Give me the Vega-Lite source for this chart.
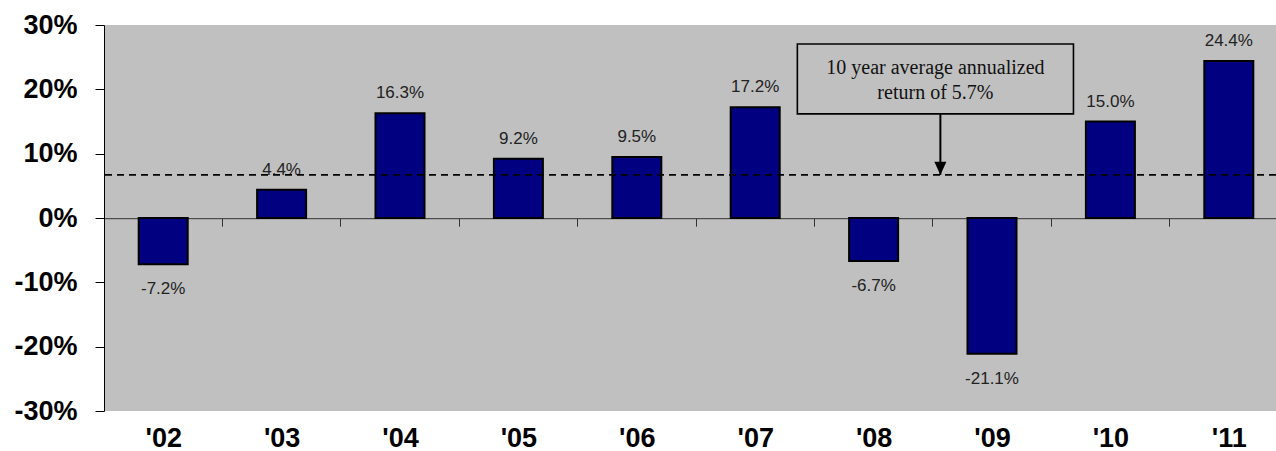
{
  "$schema": "https://vega.github.io/schema/vega-lite/v6.json",
  "width": 1172,
  "height": 386,
  "autosize": "none",
  "padding": {"left": 104, "top": 25, "right": 0, "bottom": 40},
  "background": "white",
  "config": {
    "view": {"fill": "#c0c0c0", "stroke": null},
    "locale": {"number": {"decimal": ".", "thousands": ",", "grouping": [3], "currency": ["$", ""], "minus": "-"}},
    "font": "Liberation Sans"
  },
  "datasets": {
    "returns": [
      {"year": "'02", "v": -0.072},
      {"year": "'03", "v": 0.044},
      {"year": "'04", "v": 0.163},
      {"year": "'05", "v": 0.092},
      {"year": "'06", "v": 0.095},
      {"year": "'07", "v": 0.172},
      {"year": "'08", "v": -0.067},
      {"year": "'09", "v": -0.211},
      {"year": "'10", "v": 0.150},
      {"year": "'11", "v": 0.244}
    ],
    "note": [
      {"x1": 5.856, "x2": 8.188, "y1": 0.1618, "y2": 0.2705, "ax": 7.064, "ay": 0.067, "tx": 7.022, "ty": 0.2239, "avg": 0.067,
       "text": ["10 year average annualized", "return of 5.7%"]}
    ]
  },
  "layer": [
    {
      "data": {"name": "returns"},
      "mark": {"type": "bar", "fill": "#000080", "stroke": "#000000", "strokeWidth": 2},
      "encoding": {
        "x": {"field": "year", "type": "nominal", "sort": null,
              "scale": {"domain": ["'02", "'03", "'04", "'05", "'06", "'07", "'08", "'09", "'10", "'11"], "range": [0, 1184], "paddingInner": 0.586, "paddingOuter": 0.293},
              "axis": {"orient": "bottom", "offset": -192.8, "title": null, "labels": false,
                       "domain": true, "domainColor": "#333333", "domainWidth": 1,
                       "ticks": true, "bandPosition": -0.7077, "tickSize": 8, "tickColor": "#333333", "tickWidth": 1,
                       "grid": false}},
        "y": {"field": "v", "type": "quantitative",
              "scale": {"domain": [-0.3, 0.3], "nice": false, "zero": false},
              "axis": {"orient": "left", "title": null, "format": ".0%", "values": [-0.3, -0.2, -0.1, 0, 0.1, 0.2, 0.3],
                       "grid": false, "domain": true, "domainColor": "#000000", "domainWidth": 1,
                       "ticks": true, "tickSize": 9, "tickColor": "#000000",
                       "labelFont": "Liberation Sans", "labelFontSize": 27, "labelFontWeight": "bold",
                       "labelColor": "#000000", "labelPadding": 18, "labelBaseline": "middle"}}
      }
    },
    {
      "data": {"name": "returns"},
      "transform": [{"filter": "datum.v >= 0"}],
      "mark": {"type": "text", "baseline": "alphabetic", "dy": -15, "fontSize": 17, "color": "#222222", "font": "Liberation Sans"},
      "encoding": {
        "x": {"field": "year", "type": "nominal", "sort": null,
              "scale": {"domain": ["'02", "'03", "'04", "'05", "'06", "'07", "'08", "'09", "'10", "'11"], "range": [0, 1184], "paddingInner": 0.586, "paddingOuter": 0.293},
              "axis": {"orient": "bottom", "title": null, "domain": false, "ticks": false, "tickSize": 0,
                       "labelFont": "Liberation Sans", "labelFontSize": 27, "labelFontWeight": "bold",
                       "labelColor": "#000000", "labelPadding": 14, "labelAngle": 0}},
        "y": {"field": "v", "type": "quantitative"},
        "text": {"field": "v", "type": "quantitative", "format": ".1%"}
      }
    },
    {
      "data": {"name": "returns"},
      "transform": [{"filter": "datum.v < 0"}],
      "mark": {"type": "text", "baseline": "alphabetic", "dy": 30, "fontSize": 17, "color": "#222222", "font": "Liberation Sans"},
      "encoding": {
        "x": {"field": "year", "type": "nominal", "sort": null,
              "scale": {"domain": ["'02", "'03", "'04", "'05", "'06", "'07", "'08", "'09", "'10", "'11"], "range": [0, 1184], "paddingInner": 0.586, "paddingOuter": 0.293},
              "axis": null},
        "y": {"field": "v", "type": "quantitative"},
        "text": {"field": "v", "type": "quantitative", "format": ".1%"}
      }
    },
    {
      "data": {"name": "note"},
      "mark": {"type": "rule", "stroke": "#000000", "strokeWidth": 1.8, "strokeDash": [7, 5]},
      "encoding": {"y": {"field": "avg", "type": "quantitative"}}
    },
    {
      "data": {"name": "note"},
      "mark": {"type": "rect", "fill": "#c0c0c0", "stroke": "#000000", "strokeWidth": 1.6},
      "encoding": {
        "x": {"field": "x1", "type": "quantitative", "scale": {"domain": [0, 10], "range": [0, 1184], "nice": false, "zero": false}, "axis": null},
        "x2": {"field": "x2"},
        "y": {"field": "y1", "type": "quantitative"},
        "y2": {"field": "y2"}
      }
    },
    {
      "data": {"name": "note"},
      "mark": {"type": "rule", "stroke": "#000000", "strokeWidth": 2},
      "encoding": {
        "x": {"field": "ax", "type": "quantitative", "scale": {"domain": [0, 10], "range": [0, 1184], "nice": false, "zero": false}, "axis": null},
        "y": {"field": "y1", "type": "quantitative"},
        "y2": {"field": "ay"}
      }
    },
    {
      "data": {"name": "note"},
      "mark": {"type": "point", "shape": "M-1,-2.2L1,-2.2L0,0Z", "size": 144, "filled": true, "fill": "#000000", "stroke": null, "opacity": 1},
      "encoding": {
        "x": {"field": "ax", "type": "quantitative", "scale": {"domain": [0, 10], "range": [0, 1184], "nice": false, "zero": false}, "axis": null},
        "y": {"field": "ay", "type": "quantitative"}
      }
    },
    {
      "data": {"name": "note"},
      "mark": {"type": "text", "font": "Liberation Serif", "fontSize": 20, "lineHeight": 25, "align": "center", "baseline": "alphabetic", "color": "#111111"},
      "encoding": {
        "x": {"field": "tx", "type": "quantitative", "scale": {"domain": [0, 10], "range": [0, 1184], "nice": false, "zero": false}, "axis": null},
        "y": {"field": "ty", "type": "quantitative"},
        "text": {"field": "text"}
      }
    }
  ],
  "resolve": {"scale": {"x": "independent"}}
}
